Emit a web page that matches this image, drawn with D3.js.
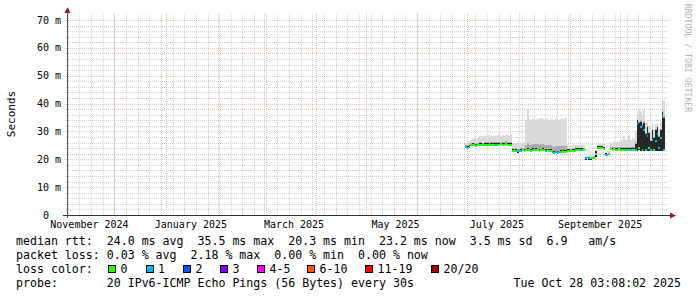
<!DOCTYPE html>
<html><head><meta charset="utf-8">
<script src="https://cdn.jsdelivr.net/npm/d3@7"></script>
<style>
body{margin:0;background:#fff}
svg text{font-family:"DejaVu Sans Mono",monospace;white-space:pre}
</style>
</head><body>
<svg id="c" width="697" height="297"></svg>
<script>
// ---------- data (ms), one value per day starting 2025-06-30 ----------
const firstDay = "2025-06-30";
const nowTime = "2025-10-28T03:08:02Z";
const median = [
 24.3,24.2,24.5,
 25.0,25.1,25.0,24.9,25.0,25.1,25.2,25.0,25.1,25.2,25.1,25.0,25.2,25.3,25.1,25.2,25.3,25.2,25.4,25.3,25.2,25.4,25.3,25.2,25.1,
 23.0,22.9,23.1,22.8,22.9,23.0,23.2,23.1,23.2,23.3,23.2,23.1,23.3,23.2,23.3,23.2,23.1,23.2,23.3,23.2,23.1,23.2,23.1,23.0,
 22.5,22.4,22.5,22.4,22.5,22.6,22.5,22.6,22.7,
 23.0,23.0,22.9,23.0,23.1,
 23.3,23.4,23.3,23.3,23.4,23.2,
 20.3,20.4,20.3,20.3,20.4,20.5,
 22.0,
 24.0,24.2,24.1,24.0,23.8,
 21.6,21.5,21.8,
 23.6,23.5,23.6,23.5,23.4,23.6,23.5,23.5,23.3,23.4,23.5,23.3,23.4,23.5,23.4,
 23.3,32.5,24.0,31.5,23.5,30.5,23.5,28.5,24.0,23.5,27.0,23.5,26.5,29.0,24.0,27.5,35.5,23.5,23.2
];
const smokeMax = [
 26.0,26.3,26.5,
 27.0,27.2,27.5,27.3,27.6,
 28.2,28.5,28.3,28.7,28.4,28.6,29.2,28.5,28.4,28.8,28.5,28.6,29.4,28.5,28.7,28.4,28.9,28.6,28.5,29.0,
 25.8,26.0,25.7,26.2,25.9,26.0,26.3,26.1,
 34.2,37.9,34.5,34.0,34.3,34.8,34.1,34.6,34.3,34.9,34.4,34.2,34.7,34.5,34.1,34.6,34.3,34.0,34.4,34.8,34.2,34.5,34.3,34.6,35.0,
 24.8,24.6,24.9,25.0,24.7,
 25.1,25.3,25.0,25.2,25.4,25.0,
 21.3,21.2,21.4,21.3,21.2,21.5,
 23.5,
 25.6,25.8,25.7,25.9,25.5,
 22.6,22.4,22.8,
 26.2,26.0,26.4,26.3,26.5,26.1,27.0,26.6,28.2,26.8,27.5,28.7,26.9,27.8,27.2,
 30.0,37.0,38.0,37.5,36.0,38.0,33.0,34.0,32.0,30.0,33.5,31.0,32.5,33.0,31.0,33.5,42.0,41.0,30.0
];
const smokeInner = [
 24.9,24.8,25.1,
 25.6,25.7,25.6,25.5,25.6,25.7,25.8,25.6,25.7,25.8,25.7,25.6,25.8,25.9,25.7,25.8,25.9,25.8,26.0,25.9,25.8,26.0,25.9,25.8,25.7,
 23.6,23.5,23.7,23.4,23.5,23.6,23.8,23.7,23.8,23.9,23.8,23.7,23.9,23.8,23.9,23.8,23.7,23.8,23.9,23.8,23.7,23.8,23.7,23.6,
 23.1,23.0,23.1,23.0,23.1,23.2,23.1,23.2,23.3,
 23.6,23.6,23.5,23.6,23.7,
 23.9,24.0,23.9,23.9,24.0,23.8,
 20.8,20.9,20.8,20.8,20.9,21.0,
 22.8,
 24.6,24.8,24.7,24.6,24.4,
 22.1,22.0,22.3,
 24.2,24.1,24.2,24.1,24.0,24.2,24.1,24.1,23.9,24.0,24.1,23.9,24.0,24.1,24.0,
 25.5,34.0,33.0,33.5,32.0,33.0,29.0,31.5,29.5,26.5,30.5,27.5,30.5,31.5,28.0,30.5,37.0,35.0,25.0
];
const smokeMin = [
 23.9,23.8,24.1,
 24.6,24.7,24.6,24.5,24.6,24.7,24.8,24.6,24.7,24.8,24.7,24.6,24.8,24.9,24.7,24.8,24.9,24.8,25.0,24.9,24.8,25.0,24.9,24.8,24.7,
 22.6,22.5,22.7,22.4,22.5,22.6,22.8,22.7,22.8,22.9,22.8,22.7,22.9,22.8,22.9,22.8,22.7,22.8,22.9,22.8,22.7,22.8,22.7,22.6,
 22.1,22.0,22.1,22.0,22.1,22.2,22.1,22.2,22.3,
 22.6,22.6,22.5,22.6,22.7,
 22.9,23.0,22.9,22.9,23.0,22.8,
 19.9,20.0,19.9,19.9,20.0,20.1,
 21.0,
 23.6,23.8,23.7,23.6,23.4,
 21.2,21.1,21.4,
 23.2,23.1,23.2,23.1,23.0,23.2,23.1,23.1,22.9,23.0,23.1,22.9,23.0,23.1,23.0,
 22.9,23.0,23.2,22.9,23.0,23.1,22.9,23.0,23.1,22.9,23.0,23.1,22.9,23.0,23.1,22.9,23.0,23.1,22.8
];
const lossCount = [
 1,1,0,
 0,0,0,0,0,0,0,0,0,0,0,0,0,0,0,1,0,0,0,0,0,0,0,0,0,
 0,0,0,1,1,1,0,0,0,0,0,0,1,0,0,0,0,0,0,0,1,0,0,0,
 1,1,1,1,1,0,0,0,0,
 0,0,0,0,0,
 0,0,0,1,0,0,
 1,1,1,0,0,0,
 0,
 0,0,0,0,0,
 1,1,0,
 0,0,0,0,0,0,0,0,0,1,0,0,1,0,0,
 1,1,0,1,0,1,1,1,0,1,1,0,1,1,1,1,1,1,1
];

// ---------- axes / legend texts ----------
const yTickValues = [0,10,20,30,40,50,60,70];
const yTickLabels = ["0","10 m","20 m","30 m","40 m","50 m","60 m","70 m"];
const xLabelDates = ["2024-11-16","2025-01-16","2025-03-19","2025-05-19","2025-07-19","2025-09-19"];
const xLabelTexts = ["November 2024","January 2025","March 2025","May 2025","July 2025","September 2025"];
const lossLabels = ["0","1","2","3","4-5","6-10","11-19","20/20"];
const lossColors = ["#26ff00","#00b8ff","#0059ff","#7e00ff","#ff00ff","#ff5500","#ff0000","#a00000"];
const legendLines = [
 "median rtt:  24.0 ms avg  35.5 ms max  20.3 ms min  23.2 ms now  3.5 ms sd  6.9   am/s",
 "packet loss: 0.03 % avg  2.18 % max  0.00 % min  0.00 % now",
 "loss color:",
 "probe:       20 IPv6-ICMP Echo Pings (56 Bytes) every 30s"
];
const dateStamp = "Tue Oct 28 03:08:02 2025";
const yTitle = "Seconds";
const sideTitle = "RRDTOOL / TOBI OETIKER";

// ---------- layout ----------
const L = 67, R = 667, T = 15, B = 215;
const svg = d3.select("#c");
const x = d3.scaleUtc()
  .domain([new Date("2024-11-02T12:00:00Z"), new Date("2025-10-29T06:00:00Z")])
  .range([L, R]);
const y = d3.scaleLinear().domain([0, 71.8]).range([B, T]);
const px = v => Math.round(v) + 0.5;

// grid
const g = svg.append("g");
const minorY = d3.range(0, 71.8, 2).filter(v => v % 10 !== 0);
const minorStyle = sel => sel.attr("stroke", "#8c8c8c").attr("stroke-opacity", 0.38).attr("stroke-dasharray", "1,1");
const majorStyle = sel => sel.attr("stroke", "#d23c28").attr("stroke-opacity", 0.33).attr("stroke-dasharray", "1,1");
g.selectAll(".hmin").data(minorY).enter().append("line")
  .attr("x1", L-1).attr("x2", R+1).attr("y1", d => px(y(d))).attr("y2", d => px(y(d))).call(minorStyle);
const weeks = d3.utcSunday.range(x.domain()[0], x.domain()[1]);
g.selectAll(".vmin").data(weeks).enter().append("line")
  .attr("x1", d => px(x(d))).attr("x2", d => px(x(d))).attr("y1", T-1).attr("y2", B).call(minorStyle);
g.selectAll(".hmaj").data(yTickValues.filter(v => v > 0)).enter().append("line")
  .attr("x1", L-3).attr("x2", R+3).attr("y1", d => px(y(d))).attr("y2", d => px(y(d))).call(majorStyle);
const months = d3.utcMonth.range(x.domain()[0], x.domain()[1]);
g.selectAll(".vmaj").data(months).enter().append("line")
  .attr("x1", d => px(x(d))).attr("x2", d => px(x(d))).attr("y1", T-2).attr("y2", B+2).call(majorStyle);

// data points
const day0 = new Date(firstDay + "T00:00:00Z");
const pts = median.map((m, i) => ({
  t: d3.utcDay.offset(day0, i), med: m, max: smokeMax[i], inner: smokeInner[i], min: smokeMin[i], loss: lossCount[i]
}));
const endPt = Object.assign({}, pts[pts.length-1], {t: new Date(nowTime)});
const stepPts = pts.concat([endPt]);

const dg = svg.append("g").attr("shape-rendering", "crispEdges");
const area = (lo, hi) => d3.area().curve(d3.curveStepAfter).x(d => x(d.t)).y0(d => y(lo(d))).y1(d => y(hi(d)));
dg.append("path").datum(stepPts).attr("fill", "#dadada").attr("d", area(d => d.min, d => d.max));
dg.append("path").datum(stepPts).attr("fill", "#ababab")
  .attr("d", area(d => d.min, d => d.inner + 0.14 * (d.max - d.inner)));
dg.append("path").datum(stepPts).attr("fill", "#262626").attr("d", area(d => d.min, d => d.inner));

function lossIndex(n) {
  if (n <= 3) return n;
  if (n <= 5) return 4;
  if (n <= 10) return 5;
  if (n <= 19) return 6;
  return 7;
}
dg.selectAll(".med").data(pts).enter().append("rect")
  .attr("x", d => x(d.t))
  .attr("width", (d, i) => x(stepPts[i+1].t) - x(d.t))
  .attr("y", d => y(d.med) - 1).attr("height", 2)
  .attr("fill", d => lossColors[lossIndex(d.loss)]);

// axes
const ax = svg.append("g");
ax.append("line").attr("x1", L-4).attr("x2", R+3).attr("y1", B+0.5).attr("y2", B+0.5).attr("stroke", "#333");
ax.append("line").attr("x1", L+0.5).attr("x2", L+0.5).attr("y1", B+3).attr("y2", T-5).attr("stroke", "#555");
ax.append("path").attr("d", `M${L-2.5},${T-2}L${L+3.5},${T-2}L${L+0.5},${T-8}Z`).attr("fill", "#9b1c1c");
ax.append("path").attr("d", `M${R+3},${B-2.5}L${R+3},${B+3.5}L${R+9},${B+0.5}Z`).attr("fill", "#9b1c1c");

// y tick labels
svg.selectAll(".yl").data(yTickValues).enter().append("text")
  .attr("x", (d, i) => yTickLabels[i].includes(" ") ? 61 : 49)
  .attr("y", d => y(d)).attr("dy", "0.36em")
  .attr("text-anchor", "end").attr("font-size", "10px").attr("fill", "#000")
  .text((d, i) => yTickLabels[i]);

// x labels
svg.selectAll(".xl").data(xLabelDates).enter().append("text")
  .attr("x", d => x(new Date(d + "T00:00:00Z")))
  .attr("y", 228)
  .attr("text-anchor", "middle").attr("font-size", "10px").attr("fill", "#000")
  .text((d, i) => xLabelTexts[i]);

// titles
svg.append("text").attr("transform", "translate(15,114) rotate(-90)")
  .attr("text-anchor", "middle").attr("font-size", "11px").attr("fill", "#000").text(yTitle);
svg.append("text").attr("transform", "translate(685,58) rotate(90)")
  .attr("text-anchor", "middle").attr("font-size", "8.2px").attr("fill", "#b4b4b4").text(sideTitle);

// legend
const baselines = [245, 259, 273, 287];
legendLines.forEach((s, i) => {
  svg.append("text").attr("x", 16).attr("y", baselines[i]).attr("font-size", "11.6px")
    .attr("xml:space", "preserve").attr("fill", "#000").text(s);
});
svg.append("text").attr("x", 681).attr("y", baselines[3]).attr("font-size", "11.6px")
  .attr("text-anchor", "end").attr("fill", "#000").text(dateStamp);
const boxX = [108, 145.5, 183, 220, 257, 307, 365, 431];
lossLabels.forEach((lab, i) => {
  svg.append("rect").attr("x", Math.round(boxX[i]) + 0.5).attr("y", 265.5).attr("width", 7).attr("height", 7)
    .attr("fill", lossColors[i]).attr("stroke", "#000").attr("stroke-width", 1);
  svg.append("text").attr("x", boxX[i] + 12.5).attr("y", baselines[2]).attr("font-size", "11.6px")
    .attr("fill", "#000").text(lab);
});
</script>
</body></html>
